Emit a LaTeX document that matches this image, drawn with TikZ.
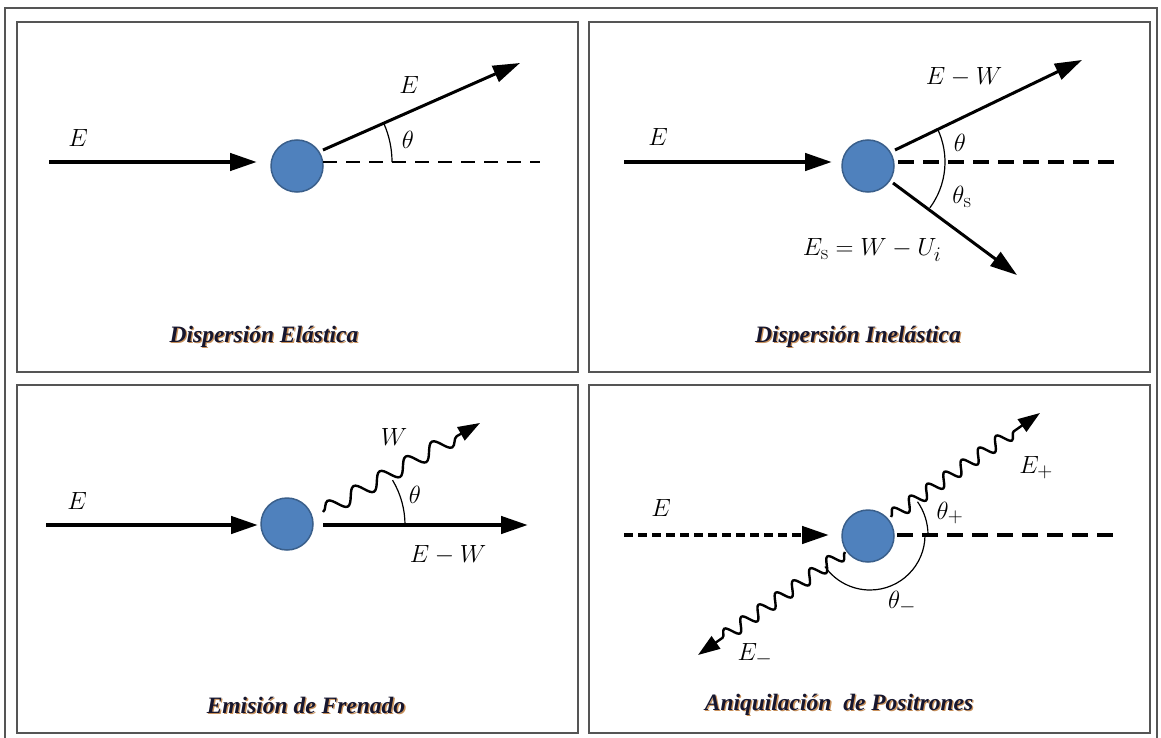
\documentclass[tikz,border=0pt]{standalone}
\usepackage{fontspec}
\newfontfamily\capfont{Liberation Serif}
\usetikzlibrary{arrows.meta,decorations.pathmorphing}
\definecolor{atomfill}{HTML}{4F81BD}
\definecolor{atomedge}{HTML}{3A5F8B}
\definecolor{capcol}{HTML}{16162E}
\definecolor{capshadow}{HTML}{C8905A}
\definecolor{framecol}{HTML}{555555}
\tikzset{
  panel/.style={draw=framecol, line width=1.4pt},
  atom/.style={circle, fill=atomfill, draw=atomedge, line width=1.5pt, minimum size=52pt, inner sep=0pt},
  beam/.style={line width=4.5pt, -{Triangle[length=27pt,width=17pt]}},
  ray/.style={line width=3pt, -{Triangle[length=27pt,width=17pt]}},
  refline/.style={line width=2.4pt, dash pattern=on 14pt off 9pt},
  boldref/.style={line width=3.2pt, dash pattern=on 16pt off 9pt},
  dbeam/.style={line width=4.5pt, dash pattern=on 9pt off 5pt, -{Triangle[length=27pt,width=17pt]}},
  anglearc/.style={line width=1.2pt},
  photon/.style={line width=2.4pt, decorate, -{Triangle[length=22pt,width=15pt]}},
  bigwave/.style={decoration={snake, amplitude=7.5pt, segment length=30pt, post length=22pt}},
  smallwave/.style={decoration={snake, amplitude=6.5pt, segment length=21pt, post length=22pt}},
  lbl/.style={font=\fontsize{24.88}{30}\selectfont, inner sep=0pt},
  captext/.style={font=\capfont\bfseries\itshape\fontsize{23.5}{28}\selectfont, text=capcol, inner sep=0pt},
  capshade/.style={font=\capfont\bfseries\itshape\fontsize{23.5}{28}\selectfont, text=capshadow, inner sep=0pt}
}
\begin{document}
\begin{tikzpicture}[x=1pt,y=-1pt]
\useasboundingbox (0,0) rectangle (1161,738);
\fill[white] (0,0) rectangle (1161,738);
% outer frame
\draw[framecol, line width=1.2pt] (5,745) -- (5,8) -- (1157,8) -- (1157,745);
% panels
\draw[panel] (17,22) rectangle (578,372);
\draw[panel] (589,22) rectangle (1150,372);
\draw[panel] (17,385) rectangle (578,733);
\draw[panel] (589,385) rectangle (1150,733);

% ---------- Panel 1: Dispersion elastica ----------
\node[atom] (c1) at (297,166) {};
\coordinate (in1s) at (49,162);
\coordinate (in1e) at (257,162);
\coordinate (o1s) at (323,150);
\coordinate (o1e) at (520,63);
\coordinate (r1s) at (323,162);
\coordinate (r1e) at (540,162);
\coordinate (a1) at (297,162);
\draw[beam] (in1s) -- (in1e);
\draw[ray] (o1s) -- (o1e);
\draw[refline] (r1s) -- (r1e);
\draw[anglearc] (a1) ++(0:95) arc[start angle=0, end angle=-23.9, radius=95];
\node[lbl] (e1a) at (78,138) {$E$};
\node[lbl] (e1b) at (409,85) {$E$};
\node[lbl] (t1) at (408,140) {$\theta$};
\node[capshade] (cap1s) at (265.3,338.3) {Dispersión Elástica};
\node[captext] (cap1) at (264,337) {Dispersión Elástica};

% ---------- Panel 2: Dispersion inelastica ----------
\node[atom] (c2) at (868,166) {};
\coordinate (in2s) at (624,162);
\coordinate (in2e) at (832,162);
\coordinate (u2s) at (895,150);
\coordinate (u2e) at (1082,60);
\coordinate (d2s) at (893,183);
\coordinate (d2e) at (1017,275);
\coordinate (r2s) at (898,162);
\coordinate (r2e) at (1114,162);
\coordinate (a2) at (868,162);
\draw[beam] (in2s) -- (in2e);
\draw[ray] (u2s) -- (u2e);
\draw[ray] (d2s) -- (d2e);
\draw[boldref] (r2s) -- (r2e);
\draw[anglearc] (a2) ++(36.6:77) arc[start angle=36.6, end angle=-25.7, radius=77];
\node[lbl] (e2a) at (658,137) {$E$};
\node[lbl] (e2b) at (964,77) {$E - W$};
\node[lbl] (t2a) at (960,143) {$\theta$};
\node[lbl] (t2b) at (962,197) {$\theta_{\mathrm{s}}$};
\node[lbl] (e2c) at (872,250) {$E_{\mathrm{s}} = W - U_i$};
\node[capshade] (cap2s) at (859.3,338.3) {Dispersión Inelástica};
\node[captext] (cap2) at (858,337) {Dispersión Inelástica};

% ---------- Panel 3: Emision de frenado ----------
\node[atom] (c3) at (287,524) {};
\coordinate (in3s) at (46,525);
\coordinate (in3e) at (258,525);
\coordinate (o3s) at (323,525);
\coordinate (o3e) at (528,525);
\coordinate (p3s) at (323,512);
\coordinate (p3e) at (480,423);
\coordinate (a3) at (318,525);
\draw[beam] (in3s) -- (in3e);
\draw[beam] (o3s) -- (o3e);
\draw[photon, bigwave] (p3s) -- (p3e);
\draw[anglearc] (a3) ++(0:87) arc[start angle=0, end angle=-31, radius=87];
\node[lbl] (e3a) at (77,501) {$E$};
\node[lbl] (w3) at (394,437) {$W$};
\node[lbl] (t3) at (415,495) {$\theta$};
\node[lbl] (e3b) at (448,555) {$E - W$};
\node[capshade] (cap3s) at (307.3,706.3) {Emisión de Frenado};
\node[captext] (cap3) at (306,705) {Emisión de Frenado};

% ---------- Panel 4: Aniquilacion de positrones ----------
\node[atom] (c4) at (868,536) {};
\coordinate (in4s) at (624,535);
\coordinate (in4e) at (829,535);
\coordinate (r4s) at (897,535);
\coordinate (r4e) at (1114,535);
\coordinate (p4s) at (891,517);
\coordinate (p4e) at (1040,413);
\coordinate (q4s) at (845,552);
\coordinate (q4e) at (698,655);
\coordinate (a4) at (870,535);
\draw[dbeam] (in4s) -- (in4e);
\draw[boldref] (r4s) -- (r4e);
\draw[photon, smallwave] (p4s) -- (p4e);
\draw[photon, smallwave] (q4s) -- (q4e);
\draw[anglearc] (a4) ++(0:58) arc[start angle=0, end angle=-35, radius=58];
\draw[anglearc] (a4) ++(0:55) arc[start angle=0, end angle=145, radius=55];
\node[lbl] (e4a) at (661,508) {$E$};
\node[lbl] (e4p) at (1036,468) {$E_{+}$};
\node[lbl] (t4p) at (950,513) {$\theta_{+}$};
\node[lbl] (t4m) at (902,603) {$\theta_{-}$};
\node[lbl] (e4m) at (755,655) {$E_{-}$};
\node[capshade] (cap4s) at (840.3,706.3) {Aniquilación\ \ de Positrones};
\node[captext] (cap4) at (839,705) {Aniquilación\ \ de Positrones};
\end{tikzpicture}
\end{document}
